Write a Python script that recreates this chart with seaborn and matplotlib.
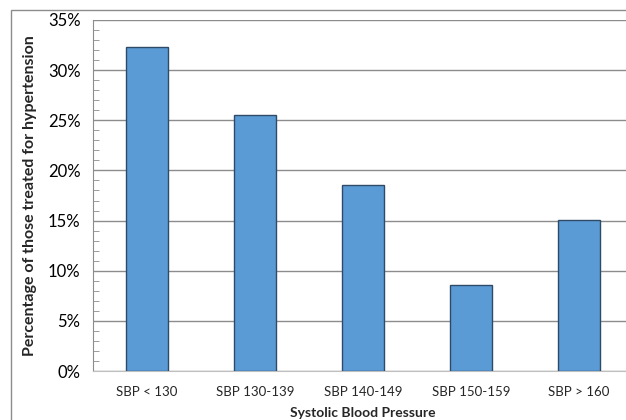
import matplotlib
matplotlib.use("Agg")
import matplotlib.pyplot as plt
import seaborn as sns
import pandas as pd
from matplotlib.ticker import MultipleLocator, PercentFormatter
from matplotlib.patches import Rectangle

categories = ["SBP < 130", "SBP 130-139", "SBP 140-149", "SBP 150-159", "SBP > 160"]
percent = [32.3, 25.5, 18.5, 8.6, 15.1]

df = pd.DataFrame({"group": categories, "pct": percent})

sns.set_style("white")
plt.rcParams["font.family"] = ["Lato", "DejaVu Sans"]

fig = plt.figure(figsize=(6.26, 4.2), dpi=100)
ax = fig.add_axes([93 / 626, 1 - 371 / 420, 540 / 626, 351 / 420])

sns.barplot(data=df, x="group", y="pct", color="#5B9BD5", saturation=1,
            width=0.38, edgecolor="#2E4A66", linewidth=1.0, ax=ax, zorder=3)

ax.set_ylim(0, 35)
ax.set_xlim(-0.5, 4.5)
ax.yaxis.set_major_locator(MultipleLocator(5))
ax.yaxis.set_minor_locator(MultipleLocator(1))
ax.yaxis.set_major_formatter(PercentFormatter(decimals=0))
ax.grid(axis="y", which="major", color="#8C8C8C", linewidth=1.0, zorder=0)
ax.set_axisbelow(True)

for side in ["top", "right"]:
    ax.spines[side].set_visible(False)
ax.spines["left"].set_color("#8C8C8C")
ax.spines["bottom"].set_color("#BFBFBF")

ax.tick_params(axis="y", which="major", length=0, labelsize=12, pad=9, colors="#000000")
ax.tick_params(axis="y", which="minor", direction="in", length=4, color="#8C8C8C", left=True)
ax.tick_params(axis="x", length=0, labelsize=9.5, pad=11)

ax.set_xlabel("Systolic Blood Pressure", fontsize=10, fontweight="bold", labelpad=6)
ax.set_ylabel("Percentage of those treated for hypertension", fontsize=11.5,
              fontweight="bold", labelpad=8)

# outer chart border
fig.patches.append(Rectangle((11 / 626, -0.1), 1.2, 1 - 10 / 420 + 0.1,
                             transform=fig.transFigure, fill=False,
                             edgecolor="#8C8C8C", linewidth=1.0))

fig.savefig("out.png", dpi=100)
